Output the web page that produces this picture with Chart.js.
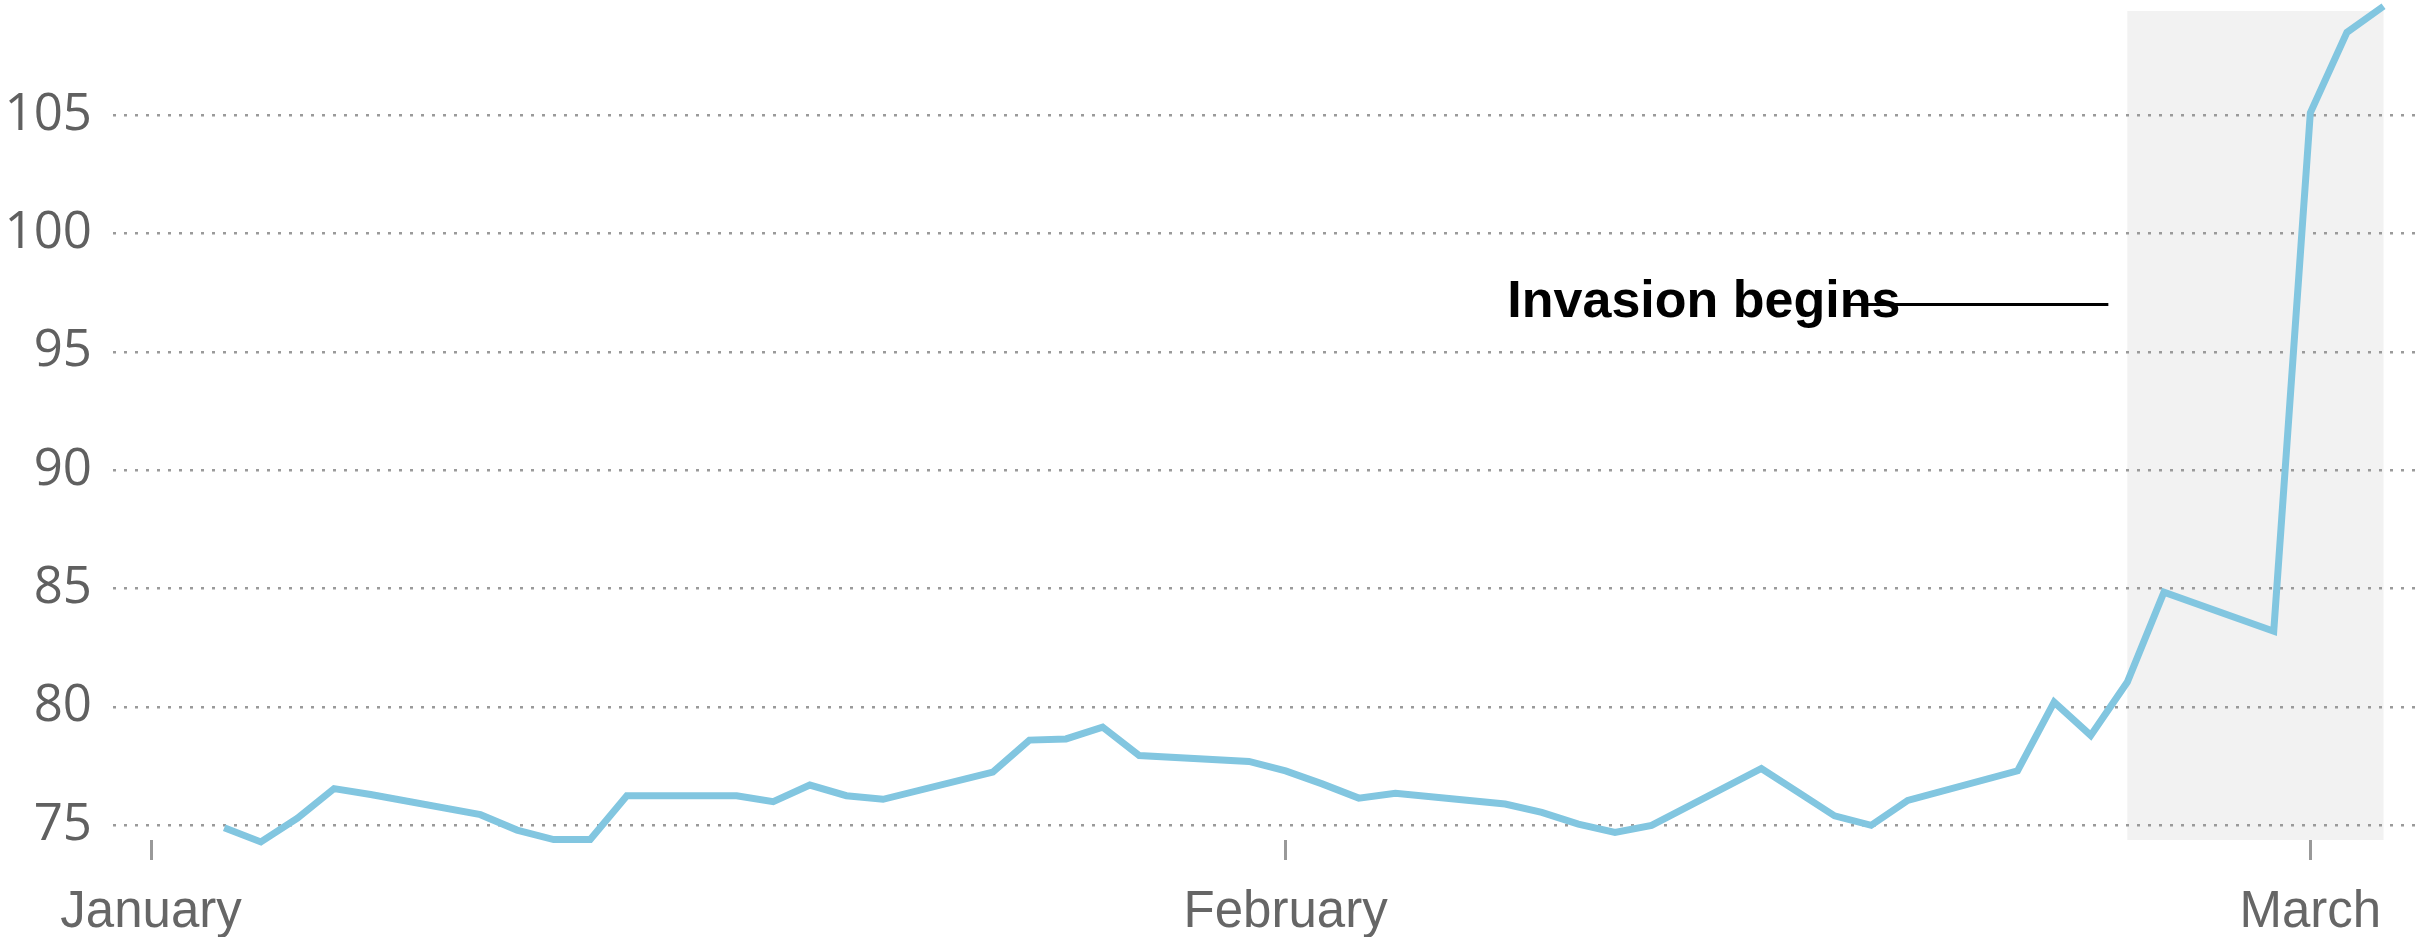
<!DOCTYPE html>
<html>
<head>
<meta charset="utf-8">
<script src="https://cdn.jsdelivr.net/npm/chart.js@4.4.1/dist/chart.umd.min.js"></script>
<style>
  html, body { margin: 0; padding: 0; background: #fff; }
  canvas { display: block; }
</style>
</head>
<body>
<canvas id="chart" width="2433" height="937"></canvas>
<script>
// trading days, Jan 3 - Mar 3 2022
const dates = [
  "2022-01-03", "2022-01-04", "2022-01-05", "2022-01-06", "2022-01-07",
  "2022-01-10", "2022-01-11", "2022-01-12", "2022-01-13", "2022-01-14",
  "2022-01-17", "2022-01-18", "2022-01-19", "2022-01-20", "2022-01-21",
  "2022-01-24", "2022-01-25", "2022-01-26", "2022-01-27", "2022-01-28",
  "2022-01-31", "2022-02-01", "2022-02-02", "2022-02-03", "2022-02-04",
  "2022-02-07", "2022-02-08", "2022-02-09", "2022-02-10", "2022-02-11",
  "2022-02-14", "2022-02-15", "2022-02-16", "2022-02-17", "2022-02-18",
  "2022-02-21", "2022-02-22", "2022-02-23", "2022-02-24", "2022-02-25",
  "2022-02-28", "2022-03-01", "2022-03-02", "2022-03-03",
]
const values = [
  74.9, 74.3, 75.3, 76.55, 76.3,
  75.45, 74.8, 74.4, 74.4, 76.25,
  76.25, 76.0, 76.7, 76.25, 76.1,
  77.25, 78.6, 78.65, 79.15, 77.95,
  77.7, 77.3, 76.75, 76.15, 76.35,
  75.9, 75.55, 75.05, 74.7, 75.0,
  77.4, 76.4, 75.4, 75.0, 76.05,
  77.3, 80.2, 78.8, 81.05, 84.85,
  83.2, 105.1, 108.5, 109.6,
]
const monthStarts = ["2022-01-01", "2022-02-01", "2022-03-01"]
const monthLabels = ["January", "February", "March"]
const yTicks = [75, 80, 85, 90, 95, 100, 105]
const shadeStart = "2022-02-24"
const shadeEnd = "2022-03-03"
const annotationText = "Invasion begins"
const annotationValue = 97

const ORIGIN = Date.UTC(2022, 0, 1)
const toDay = (s) => {
  const [y, m, d] = s.split("-").map(Number)
  return (Date.UTC(y, m - 1, d) - ORIGIN) / 86400000
}

const shadePlugin = {
  id: "shade",
  beforeDraw(chart) {
    const { ctx, chartArea, scales } = chart
    const x0 = scales.x.getPixelForValue(toDay(shadeStart))
    const x1 = scales.x.getPixelForValue(toDay(shadeEnd))
    ctx.save()
    ctx.fillStyle = "#f2f2f2"
    ctx.fillRect(x0, chartArea.top, x1 - x0, chartArea.bottom - chartArea.top)
    ctx.restore()
  },
  afterDraw(chart) {
    const { ctx, scales } = chart
    const y = scales.y.getPixelForValue(annotationValue)
    const lineEnd = scales.x.getPixelForValue(toDay(shadeStart)) - 19
    const lineStart = lineEnd - 259
    ctx.save()
    ctx.fillStyle = "#000"
    ctx.font = "bold 52px 'Liberation Sans', Arial, sans-serif"
    ctx.textAlign = "right"
    ctx.textBaseline = "alphabetic"
    ctx.fillText(annotationText, lineStart + 51, y + 12)
    ctx.strokeStyle = "#000"
    ctx.lineWidth = 3
    ctx.beginPath()
    ctx.moveTo(lineStart, y)
    ctx.lineTo(lineEnd, y)
    ctx.stroke()
    ctx.restore()
  },
}

const chartInit = () => {
  const canvas = document.getElementById("chart")
  const ctx = canvas.getContext("2d")

  const data = {
    datasets: [
      {
        data: dates.map((d, i) => ({ x: toDay(d), y: values[i] })),
        borderColor: "#82c6e0",
        borderWidth: 7,
        pointRadius: 0,
        tension: 0,
        fill: false,
        clip: false,
      },
    ],
  }

  const options = {
    responsive: false,
    animation: false,
    devicePixelRatio: 1,
    layout: {
      padding: { top: 11, right: 18, left: 0, bottom: 0 },
    },
    plugins: {
      legend: { display: false },
      tooltip: { enabled: false },
    },
    scales: {
      x: {
        type: "linear",
        min: -1.04,
        max: 61.86,
        border: { display: false },
        grid: {
          drawOnChartArea: false,
          drawTicks: true,
          tickLength: 20,
          tickColor: "#999",
          tickWidth: 3,
        },
        ticks: {
          autoSkip: false,
          maxRotation: 0,
          padding: 22,
          color: "#666",
          font: { family: "'Liberation Sans', Arial, sans-serif", size: 51 },
          callback: (value, index) => monthLabels[index],
        },
        afterBuildTicks: (scale) => {
          scale.ticks = monthStarts.map((s) => ({ value: toDay(s) }))
        },
        afterFit: (scale) => {
          scale.height = 97
          scale.paddingLeft = 0
          scale.paddingRight = 0
        },
      },
      y: {
        type: "linear",
        min: 74.38,
        max: 109.4,
        border: { display: false, dash: [3, 8] },
        grid: {
          color: "#9a9a9a",
          lineWidth: 2.5,
          drawTicks: false,
        },
        ticks: {
          padding: 21,
          color: "#606060",
          font: { family: "'Open Sans', sans-serif", size: 51 },
          callback: (value) => value,
        },
        afterBuildTicks: (scale) => {
          scale.ticks = yTicks.map((v) => ({ value: v }))
        },
        afterFit: (scale) => {
          scale.width = 113
          scale.paddingTop = 0
          scale.paddingBottom = 0
        },
      },
    },
  }

  return new Chart(ctx, {
    type: "line",
    data: data,
    options: options,
    plugins: [shadePlugin],
  })
}

chartInit()
</script>
</body>
</html>
